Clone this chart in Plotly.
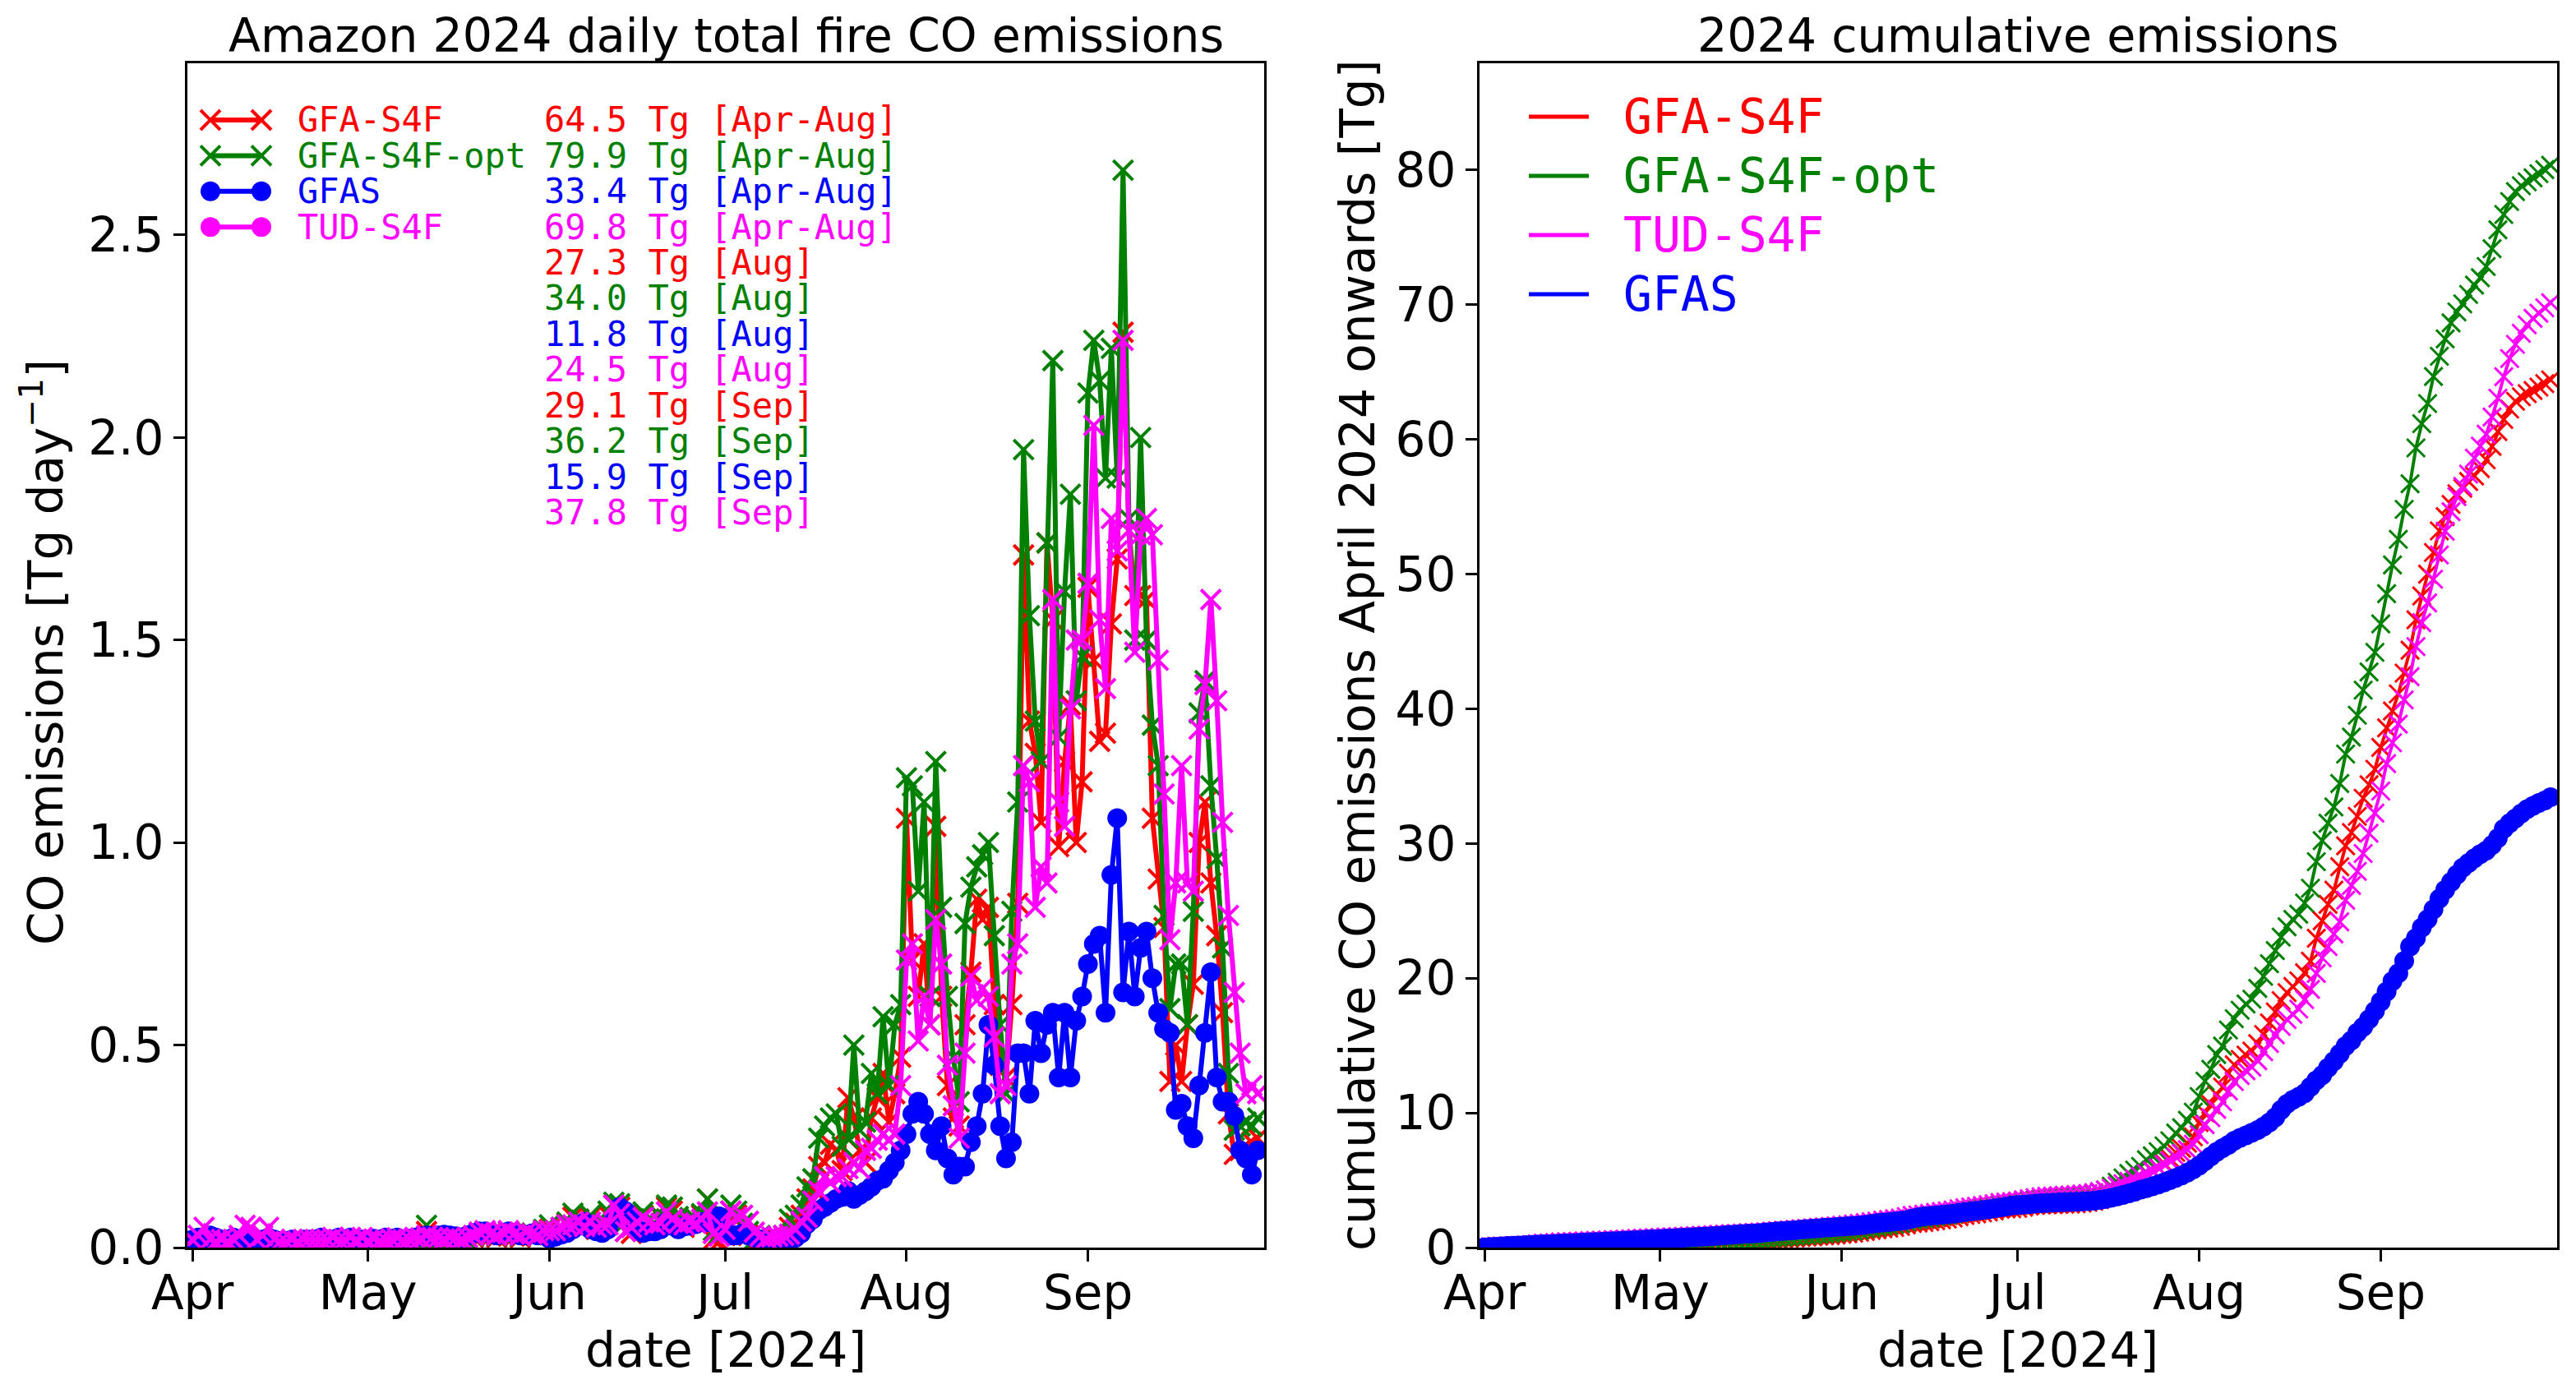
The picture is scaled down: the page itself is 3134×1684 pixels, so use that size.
import numpy as np
import pandas as pd
import plotly.graph_objects as go

W, H = 3134, 1684

# ---------------- data (daily fire CO emissions, Tg/day) ----------------
dates = pd.date_range("2024-04-01", "2024-09-30", freq="D")

gfa_apr = [0.01,0.008,0.01,0.012,0.005,0.008,0.01,0.006,0.01,0.008, 0.01,0.005,0.008,0.01,0.006,0.008,0.005,0.01,0.008,0.006, 0.008,0.01,0.006,0.008,0.012,0.008,0.01,0.006,0.008,0.01]
gfa_may = [0.01,0.012,0.012,0.01,0.012,0.015,0.012,0.015,0.015,0.02, 0.04,0.018,0.016,0.015,0.016,0.018,0.015,0.012,0.025,0.032, 0.036,0.028,0.025,0.032,0.036,0.028,0.025,0.036,0.032,0.028,0.04]
gfa_jun = [0.045,0.04,0.045,0.06,0.075,0.07,0.05,0.075,0.045,0.06, 0.08,0.105,0.1,0.04,0.035,0.06,0.08,0.07,0.05,0.075, 0.1,0.09,0.07,0.05,0.07,0.07,0.08,0.12,0.02,0.015]
gfa_jul = [0.03,0.09,0.08,0.05,0.03,0.015,0.02,0.015,0.01,0.008,0.02,0.05,0.06,0.08,0.12, 0.145,0.2,0.21,0.255,0.24,0.19,0.37,0.32,0.24,0.21,0.32,0.37,0.43,0.31,0.38,0.47]
gfa_aug = [1.06,0.71,0.62,0.75,0.55,1.04,0.62,0.40,0.32,0.30, 0.55,0.68,0.86,0.81,0.84,0.60,0.45,0.42,0.60,0.85, 1.71,1.30,1.22,1.05,1.74,1.55,0.99,1.20,1.34,1.00, 1.15]
gfa_sep = [1.63,1.45,1.25,1.27,1.54,1.70,2.26,1.77,1.61,1.61, 1.60,1.06,0.91,0.79,0.41,0.50,0.41,0.55,0.65,1.00, 1.10,0.90,0.77,0.58,0.33,0.23,0.24,0.25,0.26,0.27]

opt_apr = [0.012,0.01,0.012,0.015,0.006,0.01,0.012,0.008,0.012,0.01, 0.012,0.006,0.01,0.012,0.008,0.01,0.006,0.012,0.01,0.008, 0.01,0.012,0.008,0.01,0.015,0.01,0.012,0.008,0.01,0.012]
opt_may = [0.01,0.012,0.015,0.012,0.015,0.016,0.015,0.018,0.016,0.022, 0.055,0.02,0.018,0.016,0.018,0.02,0.016,0.015,0.028,0.036, 0.04,0.032,0.028,0.036,0.04,0.032,0.028,0.04,0.036,0.032,0.045]
opt_jun = [0.056,0.042,0.05,0.063,0.085,0.07,0.056,0.08,0.05,0.063, 0.09,0.112,0.108,0.063,0.05,0.063,0.088,0.07,0.056,0.077, 0.105,0.1,0.077,0.056,0.074,0.07,0.084,0.12,0.042,0.035]
opt_jul = [0.04,0.105,0.09,0.06,0.04,0.02,0.03,0.02,0.015,0.01,0.03,0.07,0.08,0.105,0.15, 0.17,0.27,0.3,0.32,0.33,0.25,0.27,0.5,0.29,0.31,0.43,0.38,0.57,0.4,0.55,0.6]
opt_aug = [1.16,1.14,0.88,1.10,0.62,1.20,0.84,0.62,0.47,0.36, 0.80,0.89,0.94,0.97,1.00,0.77,0.55,0.38,0.83,1.10, 1.97,1.56,1.30,1.20,1.74,2.19,1.26,1.62,1.86,1.35, 1.46]
opt_sep = [2.11,2.24,2.14,1.90,2.22,1.90,2.66,1.80,1.50,2.00, 1.50,1.29,1.19,0.82,0.59,0.70,0.70,0.55,0.83,1.32, 1.40,1.14,0.96,0.74,0.43,0.29,0.30,0.31,0.30,0.32]

gfas_apr = [0.02,0.025,0.02,0.03,0.025,0.02,0.02,0.025,0.02,0.02, 0.015,0.02,0.02,0.025,0.02,0.015,0.015,0.02,0.015,0.02, 0.02,0.02,0.025,0.02,0.02,0.025,0.02,0.025,0.02,0.02]
gfas_may = [0.02,0.022,0.02,0.025,0.022,0.025,0.02,0.022,0.025,0.028, 0.03,0.028,0.03,0.032,0.03,0.028,0.025,0.03,0.035,0.04, 0.04,0.035,0.03,0.035,0.04,0.035,0.03,0.03,0.035,0.03,0.03]
gfas_jun = [0.022,0.027,0.032,0.036,0.045,0.054,0.063,0.045,0.04,0.036, 0.045,0.072,0.1,0.09,0.072,0.045,0.036,0.04,0.04,0.045, 0.063,0.054,0.045,0.052,0.054,0.058,0.063,0.063,0.072,0.077]
gfas_jul = [0.044,0.03,0.03,0.035,0.03,0.025,0.02,0.017,0.015,0.015,0.02,0.02,0.024,0.035,0.058, 0.07,0.092,0.10,0.11,0.12,0.125,0.14,0.12,0.13,0.139,0.15,0.165,0.17,0.19,0.21,0.24]
gfas_aug = [0.28,0.33,0.36,0.33,0.28,0.24,0.30,0.22,0.18,0.20, 0.20,0.26,0.30,0.38,0.55,0.45,0.30,0.22,0.26,0.48, 0.48,0.38,0.56,0.48,0.55,0.58,0.42,0.58,0.42,0.56, 0.62]
gfas_sep = [0.70,0.75,0.77,0.58,0.92,1.06,0.63,0.78,0.62,0.74, 0.78,0.665,0.58,0.54,0.53,0.34,0.355,0.30,0.27,0.40, 0.53,0.68,0.42,0.36,0.36,0.325,0.24,0.22,0.18,0.24]

tud_apr = [0.02,0.03,0.05,0.02,0.015,0.02,0.015,0.02,0.03,0.055, 0.05,0.02,0.03,0.05,0.02,0.015,0.015,0.02,0.015,0.02, 0.02,0.02,0.02,0.02,0.025,0.02,0.02,0.025,0.02,0.025]
tud_may = [0.017,0.021,0.017,0.019,0.021,0.024,0.019,0.021,0.025,0.024, 0.03,0.025,0.024,0.021,0.025,0.024,0.021,0.025,0.03,0.038, 0.042,0.034,0.03,0.038,0.042,0.034,0.03,0.038,0.034,0.03,0.042]
tud_jun = [0.042,0.042,0.05,0.056,0.056,0.063,0.052,0.063,0.05,0.056, 0.056,0.105,0.084,0.04,0.05,0.063,0.074,0.063,0.056,0.06, 0.088,0.07,0.06,0.056,0.063,0.06,0.07,0.088,0.035,0.028]
tud_jul = [0.045,0.09,0.075,0.08,0.065,0.038,0.028,0.022,0.026,0.028,0.03,0.033,0.045,0.065,0.075, 0.115,0.14,0.175,0.16,0.175,0.175,0.195,0.21,0.195,0.24,0.245,0.265,0.28,0.265,0.28,0.4]
tud_aug = [0.71,0.75,0.51,0.62,0.55,0.81,0.70,0.45,0.35,0.27, 0.48,0.67,0.61,0.64,0.62,0.52,0.38,0.40,0.70,0.75, 1.19,1.15,0.84,0.94,0.90,1.60,1.10,1.04,1.33,1.50, 1.50]
tud_sep = [1.64,2.03,1.55,1.38,1.80,1.72,2.24,1.77,1.47,1.76, 1.80,1.76,1.45,1.12,0.76,0.90,1.19,0.90,0.88,1.28, 1.39,1.60,1.35,1.05,0.82,0.63,0.48,0.38,0.40,0.38]

series_names = ["GFA-S4F", "GFA-S4F-opt", "GFAS", "TUD-S4F"]
series_colors = ["#ff0000", "#008000", "#0000ff", "#ff00ff"]
total_apr_aug = [64.5, 79.9, 33.4, 69.8]
total_aug = [27.3, 34.0, 11.8, 24.5]
total_sep = [29.1, 36.2, 15.9, 37.8]

month_ticks = ["2024-04-01", "2024-05-01", "2024-06-01", "2024-07-01", "2024-08-01", "2024-09-01"]
month_labels = ["Apr", "May", "Jun", "Jul", "Aug", "Sep"]
left_yticks = [0.0, 0.5, 1.0, 1.5, 2.0, 2.5]
right_yticks = [0, 10, 20, 30, 40, 50, 60, 70, 80]

daily = [
    np.array(gfa_apr + gfa_may + gfa_jun + gfa_jul + gfa_aug + gfa_sep),
    np.array(opt_apr + opt_may + opt_jun + opt_jul + opt_aug + opt_sep),
    np.array(gfas_apr + gfas_may + gfas_jun + gfas_jul + gfas_aug + gfas_sep),
    np.array(tud_apr + tud_may + tud_jun + tud_jul + tud_aug + tud_sep),
]
cumul = [np.cumsum(d) for d in daily]

# ---------------- figure ----------------
FONT = "DejaVu Sans"
MONO = "DejaVu Sans Mono"
fig = go.Figure()

left_symbols = ["x-thin", "x-thin", "circle", "x-thin"]
for i in range(4):
    if left_symbols[i] == "circle":
        marker = dict(symbol="circle", size=24, color=series_colors[i], line=dict(width=0))
    else:
        marker = dict(symbol="x-thin", size=24, color=series_colors[i],
                      line=dict(width=4, color=series_colors[i]))
    fig.add_trace(go.Scatter(x=dates, y=daily[i], mode="lines+markers",
                             line=dict(color=series_colors[i], width=6),
                             marker=marker, xaxis="x", yaxis="y", showlegend=False))

for i in [0, 1, 3, 2]:
    if i == 2:
        marker = dict(symbol="circle", size=24, color=series_colors[i], line=dict(width=0))
    else:
        marker = dict(symbol="x-thin", size=22, color=series_colors[i],
                      line=dict(width=3, color=series_colors[i]))
    fig.add_trace(go.Scatter(x=dates, y=cumul[i], mode="lines+markers",
                             line=dict(color=series_colors[i], width=4),
                             marker=marker, xaxis="x2", yaxis="y2", showlegend=False))

# page pixels -> paper fraction (page has an 8px offset)
OFF = 8
def px(x):
    return (x - OFF) / W

def py(y):
    return 1 - (y - OFF) / H

xrange_ = ["2024-03-31 03:30", "2024-10-01 02:30"]
axis_common = dict(showline=True, linewidth=3, linecolor="black", mirror=True,
                   ticks="outside", ticklen=14, tickwidth=3, tickcolor="black",
                   showgrid=False, zeroline=False, automargin=False,
                   tickfont=dict(family=FONT, size=58, color="black"))

fig.update_layout(
    template="none",
    width=W, height=H,
    margin=dict(l=0, r=0, t=0, b=0, pad=0, autoexpand=False),
    paper_bgcolor="white", plot_bgcolor="white",
    xaxis=dict(domain=[px(228), px(1538)], range=xrange_, type="date",
               tickvals=month_ticks, ticktext=month_labels, anchor="y",
               ticklabelstandoff=-12, **axis_common),
    yaxis=dict(domain=[py(1518), py(77)], range=[0, 2.924],
               tickvals=left_yticks, ticktext=[f"{v:.1f}" for v in left_yticks],
               anchor="x", **axis_common),
    xaxis2=dict(domain=[px(1800), px(3111)], range=xrange_, type="date",
                tickvals=month_ticks, ticktext=month_labels, anchor="y2",
                ticklabelstandoff=-12, **axis_common),
    yaxis2=dict(domain=[py(1518), py(77)], range=[0, 87.9],
                tickvals=right_yticks, ticktext=[str(v) for v in right_yticks],
                anchor="x2", **axis_common),
    showlegend=False,
)

ann = []
def text(x, y, s, size, color="black", family=FONT, xanchor="center", angle=0, yanchor="middle"):
    ann.append(dict(x=px(x), y=py(y), xref="paper", yref="paper", text=s, showarrow=False,
                    xanchor=xanchor, yanchor=yanchor, textangle=angle,
                    font=dict(family=family, size=size, color=color)))

text(883, 8, "Amazon 2024 daily total fire CO emissions", 57, yanchor="top")
text(2455, 8, "2024 cumulative emissions", 57, yanchor="top")
text(883, 1643, "date [2024]", 58)
text(2455, 1643, "date [2024]", 58)
text(52, 794, "CO emissions [Tg day<sup>\u22121</sup>]", 58, angle=-90)
text(1652, 797, "cumulative CO emissions April 2024 onwards [Tg]", 58, angle=-90)

# left legend + totals text
shapes = []
row0, dy = 146, 43.4
for k in range(4):
    yy = row0 + dy * k
    c = series_colors[k]
    shapes.append(dict(type="line", xref="paper", yref="paper", x0=px(256), x1=px(318),
                       y0=py(yy), y1=py(yy), line=dict(color=c, width=6)))
    for cx in (256, 318):
        if k >= 2:
            shapes.append(dict(type="circle", xref="paper", yref="paper",
                               xsizemode="pixel", ysizemode="pixel",
                               xanchor=px(cx), yanchor=py(yy),
                               x0=-12, x1=12, y0=-12, y1=12,
                               fillcolor=c, line=dict(width=0)))
        else:
            for sgn in (1, -1):
                shapes.append(dict(type="line", xref="paper", yref="paper",
                                   xsizemode="pixel", ysizemode="pixel",
                                   xanchor=px(cx), yanchor=py(yy),
                                   x0=-12, x1=12, y0=-12 * sgn, y1=12 * sgn,
                                   line=dict(color=c, width=4)))
    text(360, yy, series_names[k], 42, color=c, family=MONO, xanchor="left")

lines_txt = ([(f"{total_apr_aug[k]:.1f} Tg [Apr-Aug]", k) for k in range(4)] +
             [(f"{total_aug[k]:.1f} Tg [Aug]", k) for k in range(4)] +
             [(f"{total_sep[k]:.1f} Tg [Sep]", k) for k in range(4)])
for j, (s, k) in enumerate(lines_txt):
    text(660, row0 + dy * j, s, 42, color=series_colors[k], family=MONO, xanchor="left")

# right legend
right_order = [0, 1, 3, 2]
for j, k in enumerate(right_order):
    yy = 142 + 72 * j
    shapes.append(dict(type="line", xref="paper", yref="paper", x0=px(1860), x1=px(1933),
                       y0=py(yy), y1=py(yy), line=dict(color=series_colors[k], width=5)))
    text(1973, yy, series_names[k], 58, color=series_colors[k], family=MONO, xanchor="left")

fig.update_layout(annotations=ann, shapes=shapes)
fig.write_html("out.html")
